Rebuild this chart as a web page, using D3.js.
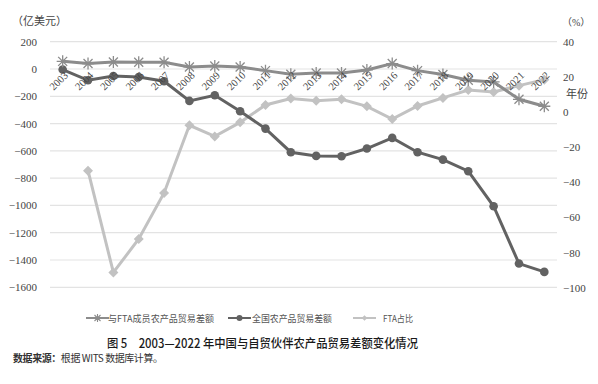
<!DOCTYPE html>
<html><head><meta charset="utf-8">
<script src="https://cdn.jsdelivr.net/npm/d3@7"></script>
<style>body{margin:0;background:#fff}</style>
</head><body>
<svg id="c" width="598" height="384"></svg>
<script>
const years = ["2003","2004","2005","2006","2007","2008","2009","2010","2011","2012","2013","2014","2015","2016","2017","2018","2019","2020","2021","2022"];
const ftaBalance = [56,40,51,49,49,15,22,15,-12,-39,-29,-29,-7,40,-12,-41,-83,-95,-222,-273];
const totalBalance = [-4,-83,-51,-59,-90,-234,-193,-310,-437,-610,-637,-640,-583,-505,-610,-664,-749,-1006,-1426,-1487];
const ftaShare = [null,-33.4,-91.3,-72.3,-46.1,-7.6,-13.9,-5.9,4.0,7.7,6.4,7.2,3.2,-4.0,3.4,8.0,12.5,11.4,15.0,18.4];
const leftTicks = [200,0,-200,-400,-600,-800,-1000,-1200,-1400,-1600];
const rightTicks = [40,20,0,-20,-40,-60,-80,-100];
const seriesNames = ["与FTA成员农产品贸易差额","全国农产品贸易差额","FTA占比"];

const svg = d3.select("#c");
const serif = "'Liberation Serif','DejaVu Serif','Noto Sans CJK SC',serif";
const cjk = "'Noto Sans CJK SC',sans-serif";
const x = d3.scaleBand().domain(years).range([50,557]);
const yL = d3.scaleLinear().domain([-1600,200]).range([287.3,41.7]);
const yR = d3.scaleLinear().domain([-100,40]).range([287.7,41.7]);
const cx = d => x(d)+x.bandwidth()/2;

// grid
svg.append("g").selectAll("line").data(leftTicks).join("line")
  .attr("x1",50).attr("x2",557).attr("y1",d=>yL(d)).attr("y2",d=>yL(d))
  .attr("stroke","#e3e3e3").attr("stroke-width",1.2);

// left axis
const gl = svg.append("g").attr("transform","translate(50,0)")
  .call(d3.axisLeft(yL).tickValues(leftTicks).tickSize(0).tickPadding(13).tickFormat(d3.format("d")));
gl.select(".domain").remove();
gl.selectAll("text").attr("font-family",serif).attr("font-size",11).attr("fill","#444");
// right axis
const gr = svg.append("g").attr("transform","translate(557,0)")
  .call(d3.axisRight(yR).tickValues(rightTicks).tickSize(0).tickPadding(6).tickFormat(d3.format("d")));
gr.select(".domain").remove();
gr.selectAll("text").attr("font-family",serif).attr("font-size",11).attr("fill","#444");

svg.append("text").attr("x",12).attr("y",25).attr("font-family",cjk).attr("font-size",11).attr("fill","#444").text("（亿美元）");
svg.append("text").attr("x",562).attr("y",26).attr("font-family",serif).attr("font-size",10).attr("fill","#444").text("（%）");
svg.append("text").attr("x",566).attr("y",98).attr("font-family",cjk).attr("font-size",11).attr("fill","#444").text("年份");

// series
const lineL = d3.line().defined(d=>d[1]!=null).x(d=>cx(d[0])).y(d=>yL(d[1]));
const lineR = d3.line().defined(d=>d[1]!=null).x(d=>cx(d[0])).y(d=>yR(d[1]));
const c1="#8c8c8c", c2="#626262", c3="#c2c2c2";

// share (light) first
const d3s = years.map((y,i)=>[y,ftaShare[i]]);
svg.append("path").datum(d3s).attr("d",lineR).attr("fill","none").attr("stroke",c3).attr("stroke-width",3);
svg.append("g").selectAll("path").data(d3s.filter(d=>d[1]!=null)).join("path")
  .attr("d",d3.symbol(d3.symbolSquare,50)).attr("transform",d=>`translate(${cx(d[0])},${yR(d[1])}) rotate(45)`).attr("fill",c3);

// total
const d2s = years.map((y,i)=>[y,totalBalance[i]]);
svg.append("path").datum(d2s).attr("d",lineL).attr("fill","none").attr("stroke",c2).attr("stroke-width",3);
svg.append("g").selectAll("circle").data(d2s).join("circle")
  .attr("cx",d=>cx(d[0])).attr("cy",d=>yL(d[1])).attr("r",4.3).attr("fill",c2);

// fta balance
const d1s = years.map((y,i)=>[y,ftaBalance[i]]);
svg.append("path").datum(d1s).attr("d",lineL).attr("fill","none").attr("stroke",c1).attr("stroke-width",3);
const star = "M-6,0L6,0M0,-6L0,6M-4.5,-4.5L4.5,4.5M-4.5,4.5L4.5,-4.5";
svg.append("g").selectAll("path").data(d1s).join("path")
  .attr("d",star).attr("transform",d=>`translate(${cx(d[0])},${yL(d[1])})`).attr("stroke",c1).attr("stroke-width",1.3).attr("fill","none");

// x labels rotated
svg.append("g").selectAll("text").data(years).join("text")
  .attr("transform",d=>`translate(${cx(d)+6},${76}) rotate(-45)`)
  .attr("text-anchor","end").attr("font-family",serif).attr("font-size",10.5).attr("fill","#444").text(d=>d);

// legend
const lg = svg.append("g");
const items = [{x:86,c:c1,m:"star",t:seriesNames[0],tx:108,w:106},{x:228,c:c2,m:"circle",t:seriesNames[1],tx:252,w:80},{x:353,c:c3,m:"diamond",t:seriesNames[2],tx:383,w:30}];
items.forEach((it,i)=>{
  const g = lg.append("g");
  g.append("line").attr("x1",it.x).attr("x2",it.x+23).attr("y1",318).attr("y2",318).attr("stroke",it.c).attr("stroke-width",2);
  const mx = it.x+11.5;
  if(it.m==="star") g.append("path").attr("d","M-4,0L4,0M0,-4L0,4M-3,-3L3,3M-3,3L3,-3").attr("transform",`translate(${mx},318)`).attr("stroke",it.c).attr("stroke-width",1.1);
  else if(it.m==="circle") g.append("circle").attr("cx",mx).attr("cy",318).attr("r",3).attr("fill",it.c);
  else g.append("path").attr("d",d3.symbol(d3.symbolSquare,16)).attr("transform",`translate(${mx},318) rotate(45)`).attr("fill",it.c);
  g.append("text").attr("x",it.tx).attr("y",321.5).attr("font-family",cjk).attr("font-size",9.5)
    .attr("textLength",it.w).attr("lengthAdjust","spacingAndGlyphs").attr("fill","#555").text(it.t);
});

// title
svg.append("text").attr("x",107).attr("y",348).attr("font-family",cjk).attr("font-size",12.5).attr("font-weight",500).attr("fill","#1a1a1a")
  .attr("textLength",311).attr("lengthAdjust","spacingAndGlyphs")
  .text("图 5　2003—2022 年中国与自贸伙伴农产品贸易差额变化情况");
// source
const s = svg.append("text").attr("x",13).attr("y",362).attr("font-family",cjk).attr("font-size",10).attr("fill","#333")
  .attr("textLength",150).attr("lengthAdjust","spacing");
s.append("tspan").attr("font-weight","bold").text("数据来源：");
s.append("tspan").text("根据 WITS 数据库计算。");
</script>
</body></html>
